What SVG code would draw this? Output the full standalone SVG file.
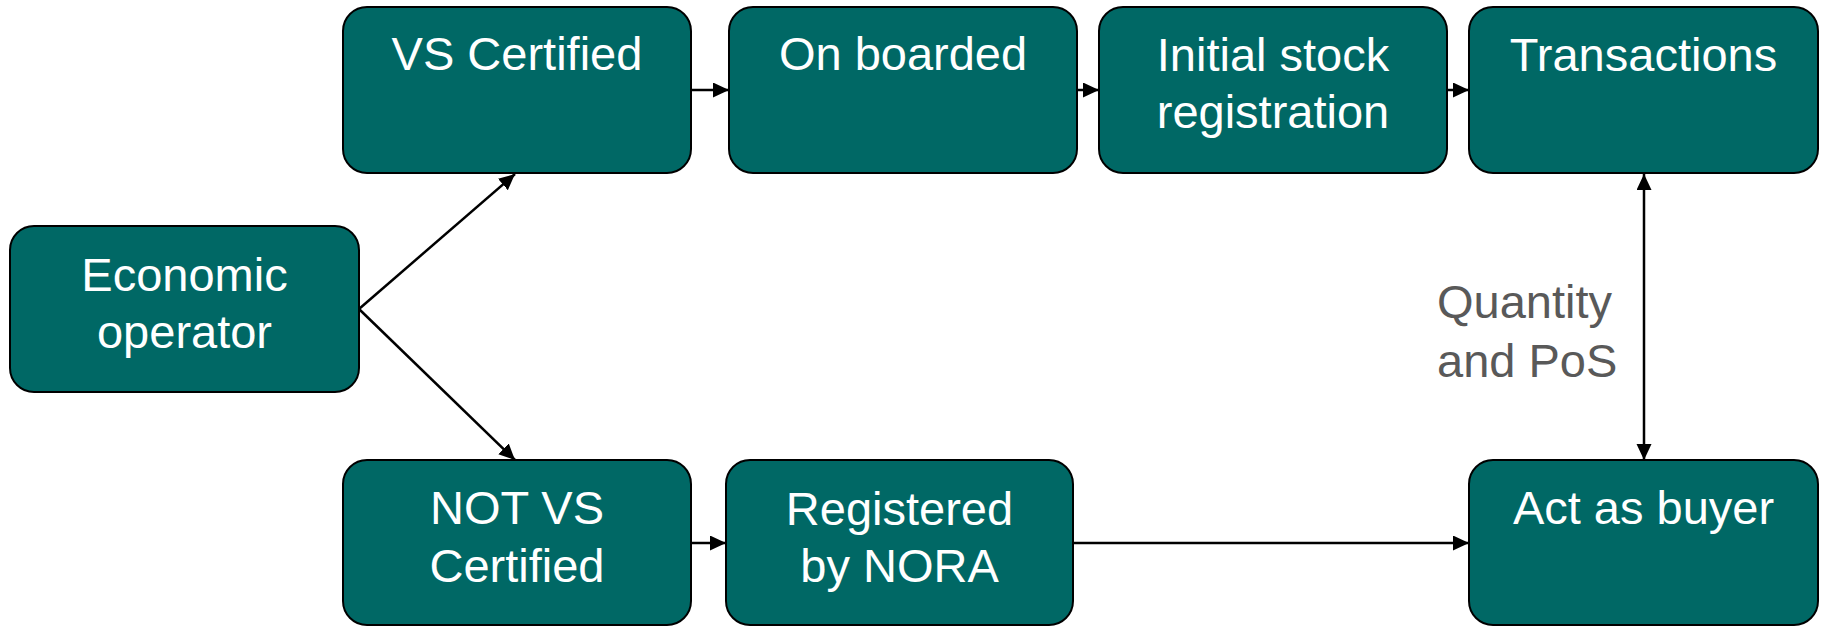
<svg xmlns="http://www.w3.org/2000/svg" width="1826" height="626" viewBox="0 0 1826 626">
<style>
.box{fill:#006865;stroke:#000;stroke-width:2}
.t{font-family:"Liberation Sans",Arial,sans-serif;font-size:47px;fill:#fff;text-anchor:middle}
.lbl{font-family:"Liberation Sans",Arial,sans-serif;font-size:47px;fill:#595959}
.c{stroke:#000;stroke-width:2.5;fill:none;marker-end:url(#ah)}
</style>
<defs>
<marker id="ah" markerUnits="userSpaceOnUse" markerWidth="17" markerHeight="16" refX="16" refY="7.5" orient="auto-start-reverse">
<path d="M0,0 L16,7.5 L0,15 z" fill="#000"/>
</marker>
</defs>
<rect width="1826" height="626" fill="#fff"/>
<g id="connectors">
<line class="c" x1="359" y1="309" x2="515" y2="174"/>
<line class="c" x1="359" y1="309" x2="515" y2="460"/>
<line class="c" x1="691" y1="90" x2="729" y2="90"/>
<line class="c" x1="1077" y1="90" x2="1099" y2="90"/>
<line class="c" x1="1447" y1="90" x2="1469" y2="90"/>
<line class="c" x1="691" y1="543" x2="726" y2="543"/>
<line class="c" x1="1073" y1="543" x2="1469" y2="543"/>
<line class="c" x1="1644" y1="174" x2="1644" y2="460" style="marker-start:url(#ah)"/>
<text class="lbl" x="1437" y="318">Quantity</text>
<text class="lbl" x="1437" y="377">and PoS</text>
</g>
<g id="economic-operator">
<rect class="box" x="10" y="226" width="349" height="166" rx="24"/>
<text class="t" x="184.5" y="291">Economic</text>
<text class="t" x="184.5" y="348">operator</text>
</g>
<g id="vs-certified">
<rect class="box" x="343" y="7" width="348" height="166" rx="24"/>
<text class="t" x="517" y="70">VS Certified</text>
</g>
<g id="on-boarded">
<rect class="box" x="729" y="7" width="348" height="166" rx="24"/>
<text class="t" x="903" y="70">On boarded</text>
</g>
<g id="initial-stock">
<rect class="box" x="1099" y="7" width="348" height="166" rx="24"/>
<text class="t" x="1273" y="71">Initial stock</text>
<text class="t" x="1273" y="128">registration</text>
</g>
<g id="transactions">
<rect class="box" x="1469" y="7" width="349" height="166" rx="24"/>
<text class="t" x="1643.5" y="71">Transactions</text>
</g>
<g id="not-vs-certified">
<rect class="box" x="343" y="460" width="348" height="165" rx="24"/>
<text class="t" x="517" y="524">NOT VS</text>
<text class="t" x="517" y="582">Certified</text>
</g>
<g id="registered-by-nora">
<rect class="box" x="726" y="460" width="347" height="165" rx="24"/>
<text class="t" x="899.5" y="525">Registered</text>
<text class="t" x="899.5" y="582">by NORA</text>
</g>
<g id="act-as-buyer">
<rect class="box" x="1469" y="460" width="349" height="165" rx="24"/>
<text class="t" x="1643.5" y="524">Act as buyer</text>
</g>
</svg>
